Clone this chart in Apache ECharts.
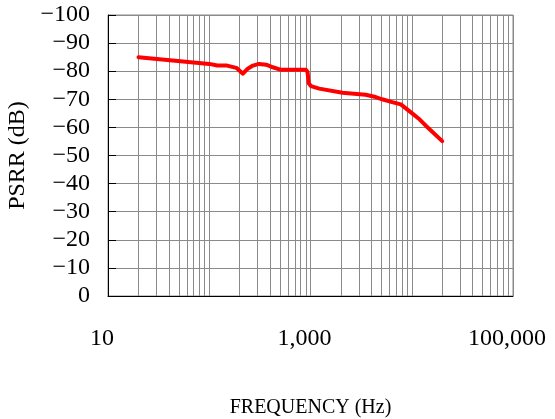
<!DOCTYPE html>
<html>
<head>
<meta charset="utf-8">
<script src="https://cdn.jsdelivr.net/npm/echarts@6/dist/echarts.min.js"></script>
<style>
  html, body { margin: 0; padding: 0; background: #fff; }
  #main { width: 555px; height: 419px; }
</style>
</head>
<body>
<div id="main"></div>
<script>
// frequency (Hz) and PSRR (dB)
var freq = [20, 100, 120, 150, 185, 215, 240, 270, 310, 365, 425, 510, 900, 935, 960, 1010, 1220, 2070, 3500, 4400, 5100, 6400, 7800, 10100, 12000, 13700, 20000];
var psrr = [-85.0, -82.6, -82.0, -82.0, -81.2, -79.1, -80.9, -82.0, -82.6, -82.3, -81.4, -80.5, -80.5, -79.7, -75.7, -74.7, -73.8, -72.3, -71.6, -70.8, -70.0, -69.0, -68.2, -65.0, -62.8, -60.7, -55.1];

// unlabelled in-between grid lines of the log axis
var minorFreq = [20, 30, 40, 50, 60, 70, 80, 90,
                 200, 300, 400, 500, 600, 700, 800, 900,
                 2000, 3000, 4000, 5000, 6000, 7000, 8000, 9000,
                 20000, 30000, 40000, 50000, 60000, 70000, 80000, 90000];
var xLabeled = [10, 1000, 100000];

var font = '"Liberation Serif", "DejaVu Serif", serif';
var gridColor = '#8a8a8a';

var chart = echarts.init(document.getElementById('main'));

var pts = freq.map(function (f, i) { return [f, psrr[i]]; });

var option = {
    animation: false,
    backgroundColor: '#fff',
    grid: {
        left: 108, top: 15, right: 42, bottom: 123,
        outerBoundsMode: 'none',
        show: true, borderColor: gridColor, borderWidth: 1
    },
    xAxis: {
        type: 'log',
        logBase: 10,
        min: 10,
        max: 100000,
        name: 'FREQUENCY (Hz)',
        nameLocation: 'middle',
        nameGap: 102,
        nameTextStyle: { fontFamily: font, fontSize: 20, color: '#000' },
        axisLine: { show: true, lineStyle: { color: '#000', width: 1 } },
        axisTick: { show: false },
        axisLabel: {
            fontFamily: font, fontSize: 24, color: '#000',
            margin: 31,
            padding: [0, 12, 0, 0],
            formatter: function (v) {
                if (xLabeled.indexOf(Math.round(v)) < 0) return '';
                return Math.round(v).toLocaleString('en-US');
            }
        },
        splitLine: { show: true, lineStyle: { color: gridColor, width: 1 } }
    },
    yAxis: {
        type: 'value',
        min: -100,
        max: 0,
        interval: 10,
        inverse: true,
        name: 'PSRR (dB)',
        nameLocation: 'middle',
        nameGap: 60,
        nameTextStyle: { fontFamily: font, fontSize: 24, color: '#000' },
        axisLine: { show: true, lineStyle: { color: '#000', width: 1 } },
        axisTick: { show: true, inside: true, length: 8, lineStyle: { color: '#000' } },
        axisLabel: {
            fontFamily: font, fontSize: 24, color: '#000', margin: 18,
            formatter: function (v) { return String(v).replace('-', '\u2212'); }
        },
        splitLine: { show: true, lineStyle: { color: gridColor, width: 1 } }
    },
    series: [
        {
            type: 'line',
            data: pts,
            showSymbol: false,
            lineStyle: { opacity: 0 },
            z: 1,
            silent: true,
            markLine: {
                silent: true,
                symbol: ['none', 'none'],
                label: { show: false },
                lineStyle: { color: gridColor, width: 1, type: 'solid' },
                data: minorFreq.map(function (f) { return { xAxis: f }; })
            }
        },
        {
            type: 'line',
            data: pts,
            showSymbol: false,
            z: 5,
            lineStyle: { color: '#ff0000', width: 4, join: 'round', cap: 'round' }
        }
    ]
};

chart.setOption(option);
</script>
</body>
</html>
